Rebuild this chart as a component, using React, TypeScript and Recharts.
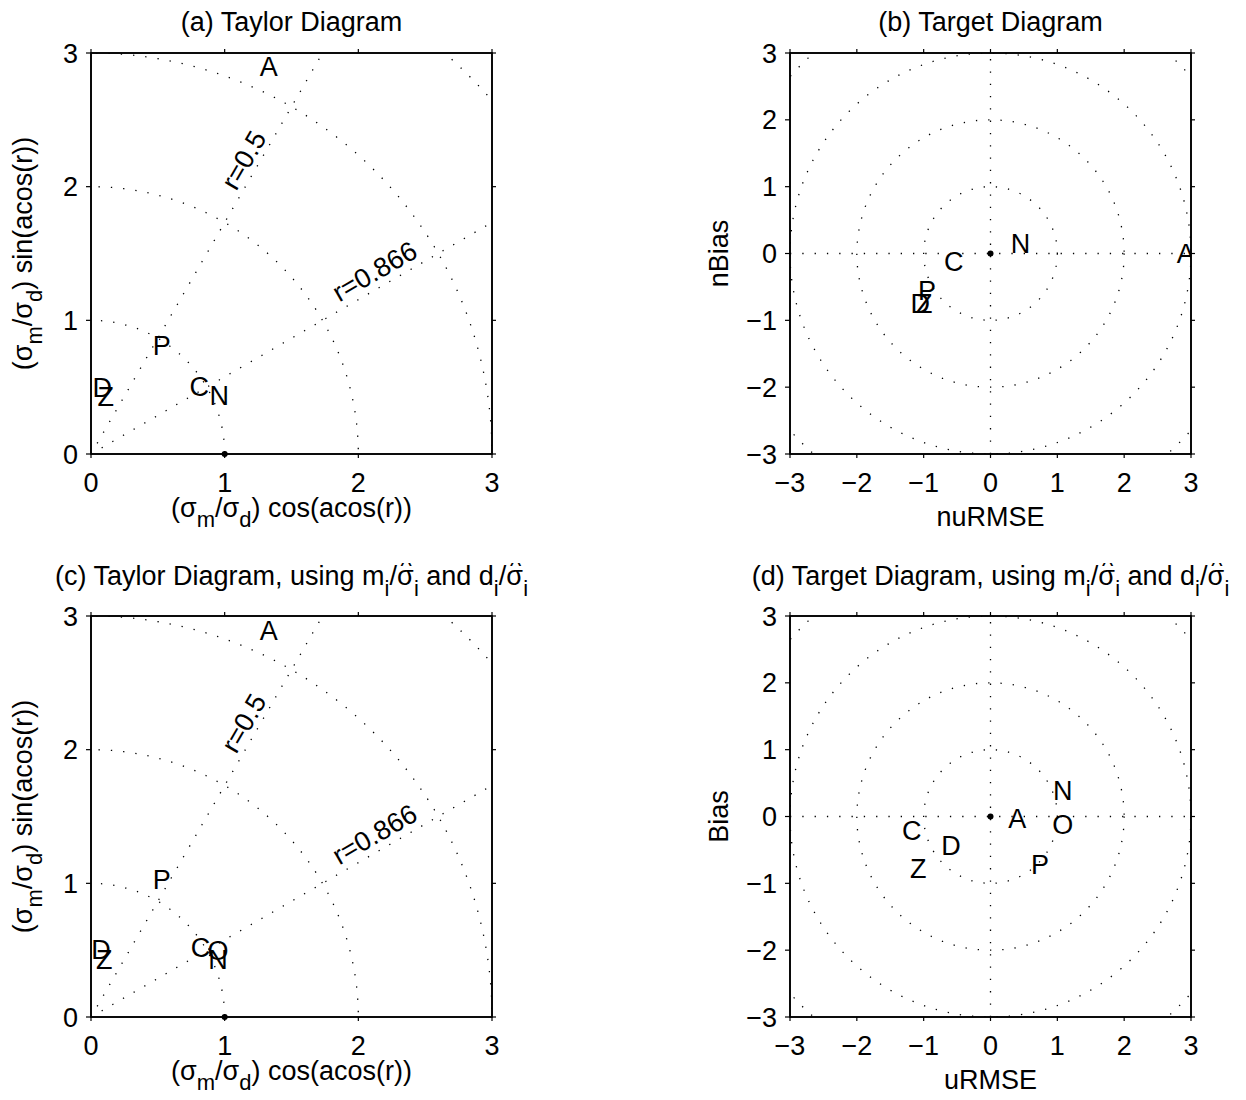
import React from 'react';
import { ScatterChart, Scatter, XAxis, YAxis, ReferenceLine, ReferenceDot, usePlotArea } from 'recharts';

const FONT = '"Liberation Sans", Arial, Helvetica, sans-serif';
const FS = 27;
const SUB = 22;
const DOTTED = { stroke: '#000', strokeWidth: 1.3, strokeDasharray: '1.3 11' };

// axes
const taylorTicks = [0, 1, 2, 3];
const targetTicks = [-3, -2, -1, 0, 1, 2, 3];
const gridRadii = [1, 2, 3, 4];

// correlation lines on the Taylor diagrams
const corrValues = [0.5, 0.866];
const corrLabelText = ['r=0.5', 'r=0.866'];
const corrLabelX = [1.14, 2.12];
const corrLabelY = [2.2, 1.37];

// (a) Taylor diagram
const taylorALabels = ['A', 'P', 'D', 'Z', 'C', 'N'];
const taylorAX = [1.33, 0.53, 0.085, 0.11, 0.81, 0.96];
const taylorAY = [2.9, 0.81, 0.5, 0.43, 0.51, 0.44];

// (b) Target diagram
const targetBLabels = ['N', 'C', 'A', 'P', 'D', 'Z'];
const targetBX = [0.45, -0.55, 2.92, -0.95, -1.05, -0.99];
const targetBY = [0.15, -0.11, 0.0, -0.55, -0.74, -0.74];

// (c) Taylor diagram, scaled
const taylorCLabels = ['A', 'P', 'D', 'Z', 'C', 'O', 'N'];
const taylorCX = [1.33, 0.53, 0.075, 0.1, 0.82, 0.95, 0.95];
const taylorCY = [2.89, 1.03, 0.51, 0.43, 0.52, 0.5, 0.43];

// (d) Target diagram, scaled
const targetDLabels = ['N', 'A', 'O', 'C', 'D', 'Z', 'P'];
const targetDX = [1.08, 0.4, 1.08, -1.18, -0.59, -1.08, 0.74];
const targetDY = [0.39, -0.03, -0.12, -0.21, -0.43, -0.78, -0.72];

const fmt = (v: number) => (v < 0 ? `\u2212${-v}` : `${v}`);

const Letter = (p: any) => (
  <text x={p.cx} y={p.cy} dy="0.36em" textAnchor="middle" fontSize={FS} fontFamily={FONT} fill="#000">
    {p.payload.label}
  </text>
);

function Rings({ id, xDomain, yDomain }: any) {
  const area = usePlotArea();
  if (!area) return null;
  const ppu = area.width / (xDomain[1] - xDomain[0]);
  const cx = area.x + (0 - xDomain[0]) * ppu;
  const cy = area.y + ((yDomain[1] - 0) / (yDomain[1] - yDomain[0])) * area.height;
  return (
    <g>
      <defs>
        <clipPath id={id}>
          <rect x={area.x} y={area.y} width={area.width} height={area.height} />
        </clipPath>
      </defs>
      <g clipPath={`url(#${id})`}>
        {gridRadii.map((r) => (
          <circle key={r} cx={cx} cy={cy} r={r * ppu} fill="none" {...DOTTED} />
        ))}
      </g>
      <rect x={area.x} y={area.y} width={area.width} height={area.height} fill="none" stroke="#000" strokeWidth={1.6} />
    </g>
  );
}

function Decor({ kind, title, xLabel, yLabel, titleBase }: any) {
  const area = usePlotArea();
  if (!area) return null;
  const midX = area.x + area.width / 2;
  const midY = area.y + area.height / 2;
  const bottom = area.y + area.height;
  const common = { fontSize: FS, fontFamily: FONT, fill: '#000' };
  const yBase = kind === 'taylor' ? area.x - 59 : area.x - 62;
  const xBase = kind === 'taylor' ? bottom + 63 : bottom + 72;
  return (
    <g>
      <text x={midX} y={area.y - titleBase} textAnchor="middle" {...common}>
        {title}
      </text>
      <text x={midX} y={xBase} textAnchor="middle" {...common}>
        {xLabel}
      </text>
      <text x={yBase} y={midY} textAnchor="middle" transform={`rotate(-90, ${yBase}, ${midY})`} {...common}>
        {yLabel}
      </text>
    </g>
  );
}

const sigmaLabel = (fn: string) => (
  <>
    (σ<tspan dy={10} fontSize={SUB}>m</tspan>
    <tspan dy={-10}>/σ</tspan>
    <tspan dy={10} fontSize={SUB}>d</tspan>
    <tspan dy={-10}>{`) ${fn}(acos(r))`}</tspan>
  </>
);

// "x_i / sigma-hat_i" pieces, hat drawn as a caret over the sigma
const hatSigma = (lead: string) => (
  <>
    <tspan dy={11} fontSize={SUB}>i</tspan>
    <tspan dy={-11}>/σ</tspan>
    <tspan dx={-13} dy={-11} fontSize={24}>^</tspan>
    <tspan dx={2} dy={22} fontSize={SUB}>i</tspan>
    <tspan dy={-11}>{lead}</tspan>
  </>
);

const scaledTitle = (head: string) => (
  <>
    {head}, using m{hatSigma(' and d')}
    {hatSigma('')}
  </>
);

function Panel(props: any) {
  const { left, top, id, kind, labels, xs, ys, title, xLabel, yLabel, titleBase } = props;
  const taylor = kind === 'taylor';
  const dom: [number, number] = taylor ? [0, 3] : [-3, 3];
  const ticks = taylor ? taylorTicks : targetTicks;
  const data = labels.map((label: string, i: number) => ({ x: xs[i], y: ys[i], label }));
  const tickStyle = { fontSize: FS, fill: '#000', fontFamily: FONT };
  const axisLine = { stroke: '#000', strokeWidth: 1.6 };
  const tickLine = { stroke: '#000', strokeWidth: 1.2 };
  return (
    <div style={{ position: 'absolute', left, top }}>
      <ScatterChart width={600} height={540} margin={{ top: 52, right: 107, bottom: 6, left: 0 }}>
        <XAxis type="number" dataKey="x" domain={dom} ticks={ticks} allowDataOverflow height={80}
          tick={tickStyle} tickFormatter={fmt} tickSize={4} tickMargin={15} axisLine={axisLine} tickLine={tickLine} />
        <XAxis xAxisId="top" orientation="top" type="number" dataKey="x" domain={dom} ticks={ticks} allowDataOverflow
          height={1} tickFormatter={() => ''} tickSize={4} axisLine={axisLine} tickLine={tickLine} />
        <YAxis type="number" dataKey="y" domain={dom} ticks={ticks} allowDataOverflow width={91}
          tick={tickStyle} tickFormatter={fmt} tickSize={5} tickMargin={8} axisLine={axisLine} tickLine={tickLine} />
        <YAxis yAxisId="right" orientation="right" type="number" dataKey="y" domain={dom} ticks={ticks} allowDataOverflow
          width={1} tickFormatter={() => ''} tickSize={4} axisLine={axisLine} tickLine={tickLine} />
        <Rings id={id} xDomain={dom} yDomain={dom} />
        {taylor &&
          corrValues.map((r) => {
            const a = Math.acos(r);
            const end = Math.tan(a) > 1 ? { x: 3 / Math.tan(a), y: 3 } : { x: 3, y: 3 * Math.tan(a) };
            return (
              <ReferenceLine key={r} segment={[{ x: 0, y: 0 }, end]} ifOverflow="visible" {...DOTTED} />
            );
          })}
        {taylor &&
          corrLabelText.map((t, i) => (
            <ReferenceDot key={t} x={corrLabelX[i]} y={corrLabelY[i]} ifOverflow="visible"
              shape={(p: any) => (
                <text x={p.cx} y={p.cy} dy="0.36em" textAnchor="middle" fontSize={FS} fontFamily={FONT} fill="#000"
                  transform={`rotate(${-(Math.acos(corrValues[i]) * 180) / Math.PI}, ${p.cx}, ${p.cy})`}>
                  {t}
                </text>
              )} />
          ))}
        {!taylor && <ReferenceLine y={0} {...DOTTED} />}
        {!taylor && <ReferenceLine x={0} {...DOTTED} />}
        <ReferenceDot x={taylor ? 1 : 0} y={0} r={3} fill="#000" stroke="none" ifOverflow="visible" />
        <Scatter data={data} isAnimationActive={false} shape={Letter} />
        <Decor kind={kind} title={title} xLabel={xLabel} yLabel={yLabel} titleBase={titleBase} />
      </ScatterChart>
    </div>
  );
}

export default function App() {
  return (
    <div style={{ position: 'absolute', left: 0, top: 0, width: 1246, height: 1100, background: '#fff' }}>
      <Panel left={0} top={0} id="clipA" kind="taylor" labels={taylorALabels} xs={taylorAX} ys={taylorAY}
        title="(a) Taylor Diagram" titleBase={22} xLabel={sigmaLabel('cos')} yLabel={sigmaLabel('sin')} />
      <Panel left={699} top={0} id="clipB" kind="target" labels={targetBLabels} xs={targetBX} ys={targetBY}
        title="(b) Target Diagram" titleBase={22} xLabel="nuRMSE" yLabel="nBias" />
      <Panel left={0} top={563} id="clipC" kind="taylor" labels={taylorCLabels} xs={taylorCX} ys={taylorCY}
        title={scaledTitle('(c) Taylor Diagram')} titleBase={31}
        xLabel={sigmaLabel('cos')} yLabel={sigmaLabel('sin')} />
      <Panel left={699} top={563} id="clipD" kind="target" labels={targetDLabels} xs={targetDX} ys={targetDY}
        title={scaledTitle('(d) Target Diagram')} titleBase={31} xLabel="uRMSE" yLabel="Bias" />
    </div>
  );
}
